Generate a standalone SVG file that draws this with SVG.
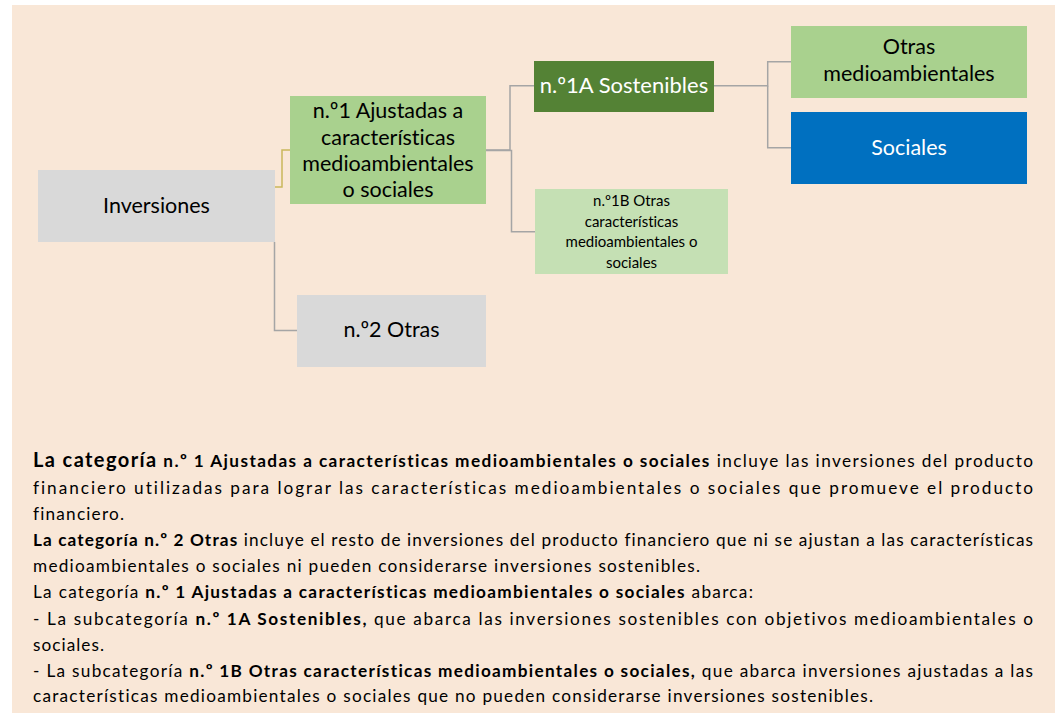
<svg xmlns="http://www.w3.org/2000/svg" width="1055" height="713" viewBox="0 0 1055 713">
<style>
text{font-variant-ligatures:none}
.node text{font-family:Lato,"Liberation Sans",sans-serif;fill:#000;text-anchor:middle}
.big{font-size:21.5px}
.big1a{font-size:22px}
.small{font-size:15px}
.w{fill:#fff !important}
.conn path{fill:none;stroke:#A5A5A5;stroke-width:1.5}
.conn path.y{stroke:#C9B85C}
.para text{font-family:Lato,"Liberation Sans",sans-serif;font-size:17.2px;fill:#000}
.b{font-weight:bold}
.b17{font-weight:bold;font-size:20px}
</style>
<rect x="0" y="0" width="1055" height="713" fill="#fff"/>
<rect x="12" y="5" width="1043" height="708" fill="#F9E7D7"/>
<g class="conn">
<path class="y" d="M275 187H282V150H290"/>
<path d="M274.5 242V330.5H297"/>
<path d="M486 150H510V85.7H534"/>
<path d="M486 150.5H511.5V231.7H535"/>
<path d="M714 85.7H767.7V61.7H791"/>
<path d="M767.7 85.7V147.7H791"/>
</g>
<g class="node" id="inversiones">
<rect x="38" y="170" width="237" height="72" fill="#D9D9D9"/>
<text class="big" x="156.5" y="213">Inversiones</text>
</g>
<g class="node" id="n1">
<rect x="290" y="96" width="196" height="108" fill="#A9D18E"/>
<text class="big" x="388" y="118">n.º1 Ajustadas a</text>
<text class="big" x="388" y="144.5">características</text>
<text class="big" x="388" y="171">medioambientales</text>
<text class="big" x="388" y="197">o sociales</text>
</g>
<g class="node" id="n2">
<rect x="297" y="295" width="189" height="72" fill="#D9D9D9"/>
<text class="big" x="391.5" y="337">n.º2 Otras</text>
</g>
<g class="node" id="n1a">
<rect x="534" y="61" width="180" height="51" fill="#548235"/>
<text class="big1a w" x="624" y="93">n.º1A Sostenibles</text>
</g>
<g class="node" id="n1b">
<rect x="535" y="189" width="193" height="85" fill="#C5E0B4"/>
<text class="small" x="631.5" y="206">n.º1B Otras</text>
<text class="small" x="631.5" y="226.5">características</text>
<text class="small" x="631.5" y="247">medioambientales o</text>
<text class="small" x="631.5" y="267.5">sociales</text>
</g>
<g class="node" id="otras-medio">
<rect x="791" y="26" width="236" height="72" fill="#A9D18E"/>
<text class="big" x="909" y="54">Otras</text>
<text class="big" x="909" y="81">medioambientales</text>
</g>
<g class="node" id="sociales">
<rect x="791" y="112" width="236" height="72" fill="#0070C0"/>
<text class="big w" x="909" y="155">Sociales</text>
</g>
<g class="para">
<text x="33" y="467" textLength="1000" lengthAdjust="spacing"><tspan class="b17">La categoría</tspan> <tspan class="b">n.º 1 Ajustadas a características medioambientales o sociales</tspan> incluye las inversiones del producto</text>
<text x="33" y="493.5" textLength="1000" lengthAdjust="spacing">financiero utilizadas para lograr las características medioambientales o sociales que promueve el producto</text>
<text x="33" y="520" textLength="91" lengthAdjust="spacing">financiero.</text>
<text x="33" y="546" textLength="1000" lengthAdjust="spacing"><tspan class="b">La categoría n.º 2 Otras</tspan> incluye el resto de inversiones del producto financiero que ni se ajustan a las características</text>
<text x="33" y="572" textLength="667" lengthAdjust="spacing">medioambientales o sociales ni pueden considerarse inversiones sostenibles.</text>
<text x="33" y="598" textLength="720" lengthAdjust="spacing">La categoría <tspan class="b">n.º 1 Ajustadas a características medioambientales o sociales</tspan> abarca:</text>
<text x="33" y="624.5" textLength="1000" lengthAdjust="spacing">- La subcategoría <tspan class="b">n.º 1A Sostenibles,</tspan> que abarca las inversiones sostenibles con objetivos medioambientales o</text>
<text x="33" y="650.5" textLength="71" lengthAdjust="spacing">sociales.</text>
<text x="33" y="676.5" textLength="1000" lengthAdjust="spacing">- La subcategoría <tspan class="b">n.º 1B Otras características medioambientales o sociales,</tspan> que abarca inversiones ajustadas a las</text>
<text x="33" y="702" textLength="840" lengthAdjust="spacing">características medioambientales o sociales que no pueden considerarse inversiones sostenibles.</text>
</g>
</svg>
